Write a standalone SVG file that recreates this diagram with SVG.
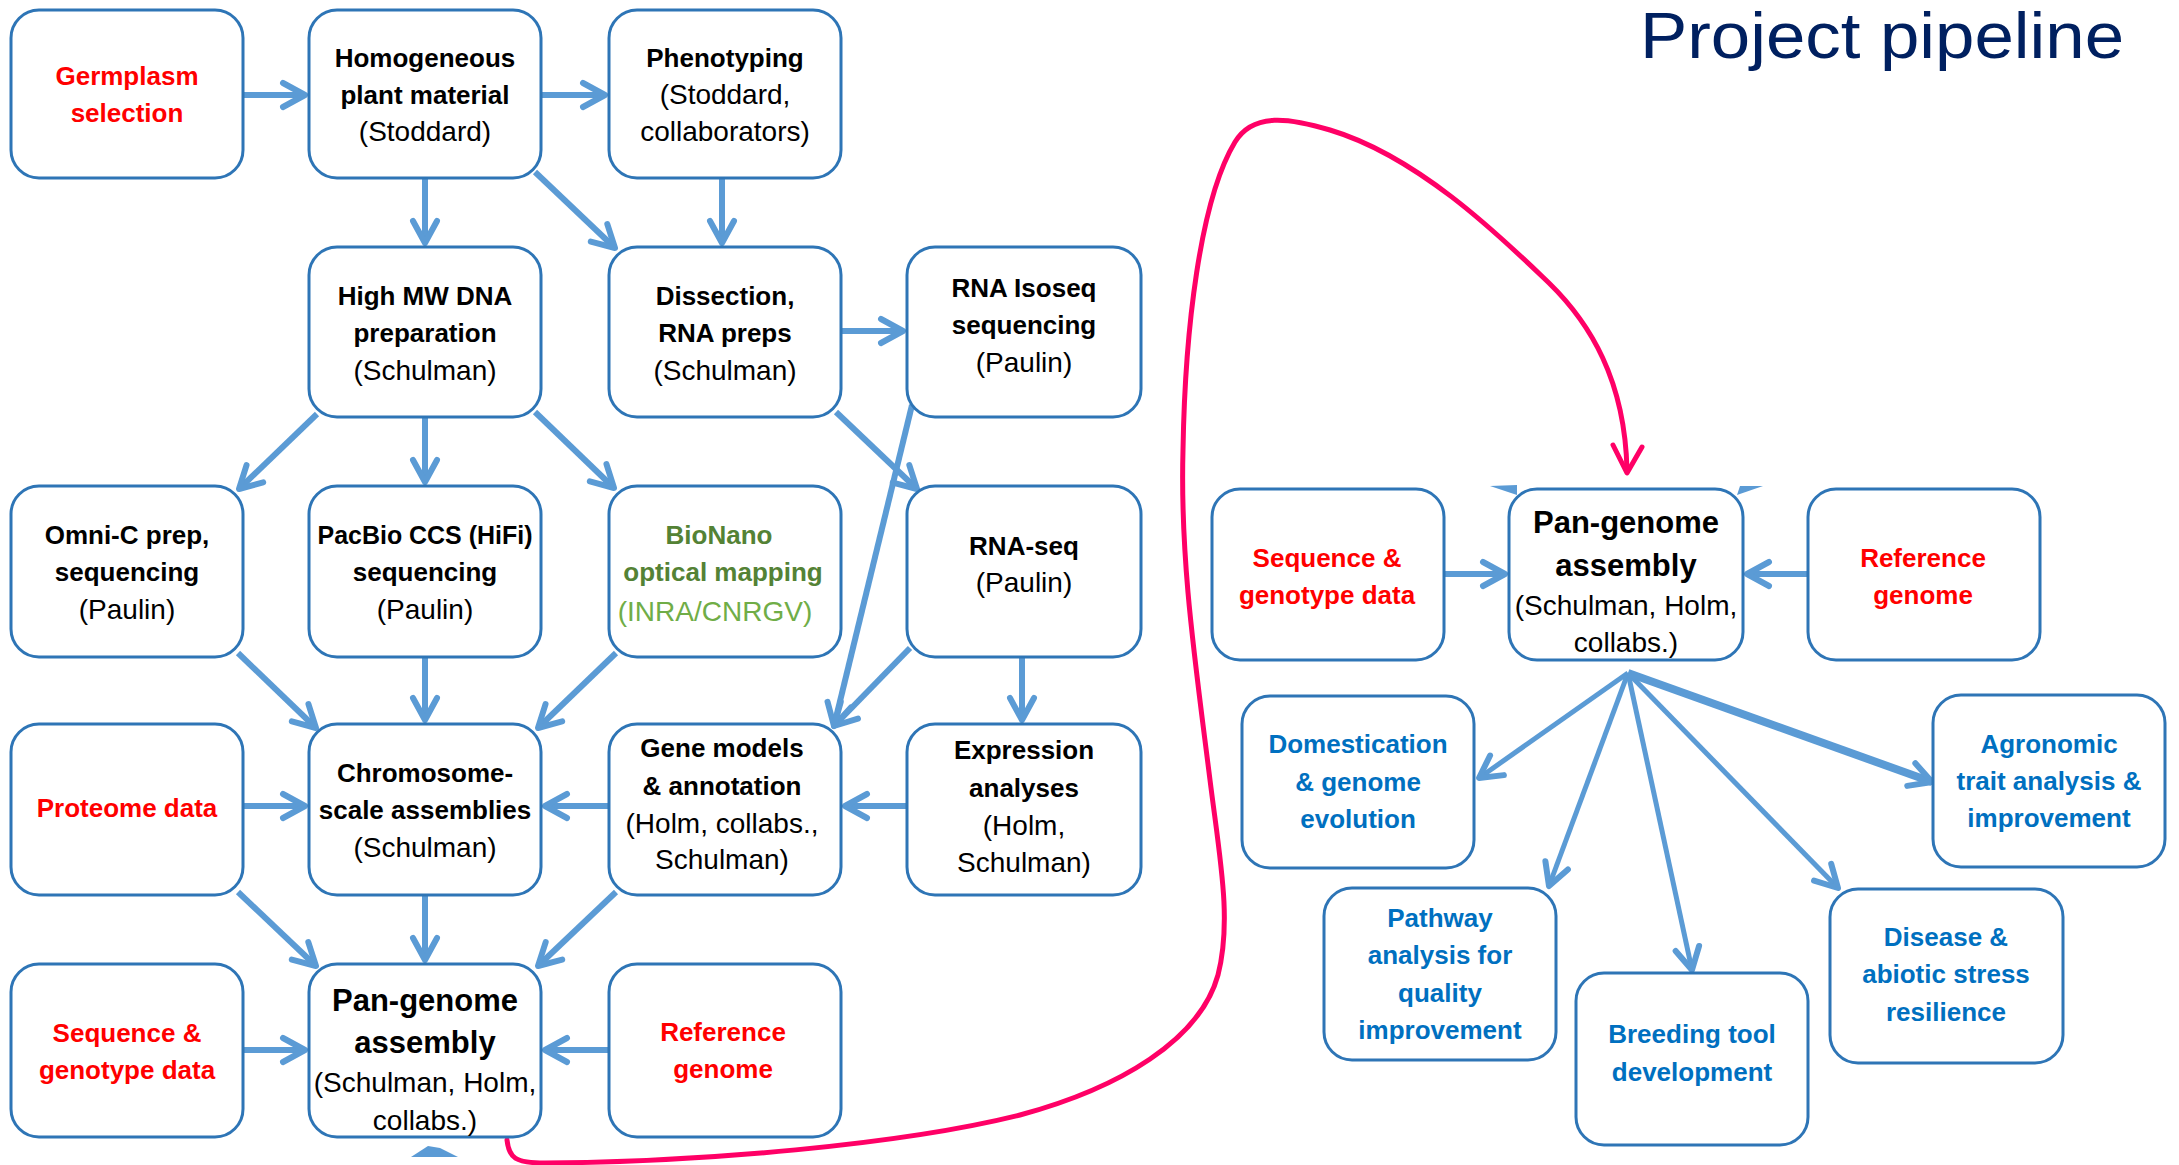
<svg xmlns="http://www.w3.org/2000/svg" width="2179" height="1165" viewBox="0 0 2179 1165">
<style>
.box{fill:#fff;stroke:#2E75B6;stroke-width:3}
text{font-family:"Liberation Sans",Arial,sans-serif;text-anchor:middle}
.b{font-size:26px;font-weight:bold;fill:#000}
.r{font-size:28px;fill:#000}
.red{font-size:26px;font-weight:bold;fill:#FF0000}
.out{font-size:26px;font-weight:bold;fill:#0070C0}
.pg{font-size:31px;font-weight:bold;fill:#000}
.gd{font-size:26px;font-weight:bold;fill:#548235}
.gl{font-size:28px;fill:#70AD47}
.title{font-size:64px;fill:#002060}
.arr{fill:none;stroke:#5B9BD5;stroke-width:6;marker-end:url(#ah)}
.thin{stroke-width:5}
.thick{stroke-width:8}
.pink{fill:none;stroke:#FF0066;stroke-width:5;stroke-linecap:round;stroke-linejoin:round}
</style>
<defs>
<marker id="ah" markerUnits="userSpaceOnUse" viewBox="-26 -16 32 32" markerWidth="32" markerHeight="32" refX="0" refY="0" orient="auto">
<path d="M-22,-12 L0,0 L-22,12" fill="none" stroke="#5B9BD5" stroke-width="6" stroke-linecap="round" stroke-linejoin="round"/>
</marker>
</defs>
<rect width="2179" height="1165" fill="#fff"/>
<text class="title" x="1882" y="58" textLength="484" lengthAdjust="spacingAndGlyphs">Project pipeline</text>

<g id="connectors">
<path class="arr" d="M243,95 L305,95"/>
<path class="arr" d="M541,95 L605,95"/>
<path class="arr" d="M425,178 L425,243"/>
<path class="arr" d="M535,172 L615,248"/>
<path class="arr" d="M722,178 L722,243"/>
<path class="arr" d="M841,331 L903,331"/>
<path class="arr" d="M317,414 L239,489"/>
<path class="arr" d="M425,417 L425,482"/>
<path class="arr" d="M535,412 L614,488"/>
<path class="arr" d="M912,405 L834,726"/>
<path class="arr" d="M836,412 L917,489"/>
<path class="arr" d="M910,648 L834,726"/>
<path class="arr" d="M1022,657 L1022,720"/>
<path class="arr" d="M907,806 L845,806"/>
<path class="arr" d="M609,806 L545,806"/>
<path class="arr" d="M243,806 L305,806"/>
<path class="arr" d="M238,653 L316,728"/>
<path class="arr" d="M425,657 L425,720"/>
<path class="arr" d="M616,653 L538,728"/>
<path class="arr" d="M238,892 L316,966"/>
<path class="arr" d="M425,895 L425,960"/>
<path class="arr" d="M616,892 L538,966"/>
<path class="arr" d="M243,1050 L305,1050"/>
<path class="arr" d="M609,1050 L545,1050"/>
<path class="arr" d="M1444,574 L1505,574"/>
<path class="arr" d="M1808,574 L1747,574"/>
<path class="arr thin" d="M1628,673 L1479,778"/>
<path class="arr thin" d="M1628,673 L1549,886"/>
<path class="arr thin" d="M1628,673 L1692,970"/>
<path class="arr thin" d="M1628,673 L1838,888"/>
<path class="arr thick" d="M1628,673 L1932,782"/>
<polygon points="411,1157 428,1146 440,1148 458,1157" fill="#5B9BD5"/>
<polygon points="1490,486 1517,485 1517,495" fill="#5B9BD5"/>
<polygon points="1737,495 1740,486 1763,486" fill="#5B9BD5"/>
<path class="pink" d="M507,1140 C509,1158 515,1163 545,1163 C700,1162 900,1145 1020,1115 C1120,1088 1200,1040 1218,975 C1232,920 1220,860 1210,780 C1195,660 1180,560 1183,450 C1185,330 1200,200 1235,142 C1253,112 1290,118 1330,130 C1420,157 1504,240 1549,283 C1590,323 1625,380 1627,470"/>
<path class="pink" d="M1613,445 L1627,473 L1642,447" stroke-width="4"/>
</g>

<g id="germplasm"><rect class="box" x="11" y="10" width="232" height="168" rx="28"/>
<text class="red" x="127" y="85">Germplasm</text><text class="red" x="127" y="122">selection</text></g>
<g id="homogeneous"><rect class="box" x="309" y="10" width="232" height="168" rx="28"/>
<text class="b" x="425" y="67">Homogeneous</text><text class="b" x="425" y="104">plant material</text><text class="r" x="425" y="141">(Stoddard)</text></g>
<g id="phenotyping"><rect class="box" x="609" y="10" width="232" height="168" rx="28"/>
<text class="b" x="725" y="67">Phenotyping</text><text class="r" x="725" y="104">(Stoddard,</text><text class="r" x="725" y="141">collaborators)</text></g>

<g id="highmw"><rect class="box" x="309" y="247" width="232" height="170" rx="28"/>
<text class="b" x="425" y="305">High MW DNA</text><text class="b" x="425" y="342">preparation</text><text class="r" x="425" y="380">(Schulman)</text></g>
<g id="dissection"><rect class="box" x="609" y="247" width="232" height="170" rx="28"/>
<text class="b" x="725" y="305">Dissection,</text><text class="b" x="725" y="342">RNA preps</text><text class="r" x="725" y="380">(Schulman)</text></g>
<g id="isoseq"><rect class="box" x="907" y="247" width="234" height="170" rx="28"/>
<text class="b" x="1024" y="297">RNA Isoseq</text><text class="b" x="1024" y="334">sequencing</text><text class="r" x="1024" y="372">(Paulin)</text></g>

<g id="omnic"><rect class="box" x="11" y="486" width="232" height="171" rx="28"/>
<text class="b" x="127" y="544">Omni-C prep,</text><text class="b" x="127" y="581">sequencing</text><text class="r" x="127" y="619">(Paulin)</text></g>
<g id="pacbio"><rect class="box" x="309" y="486" width="232" height="171" rx="28"/>
<text class="b" x="425" y="544" textLength="215" lengthAdjust="spacingAndGlyphs">PacBio CCS (HiFi)</text><text class="b" x="425" y="581">sequencing</text><text class="r" x="425" y="619">(Paulin)</text></g>
<g id="bionano"><rect class="box" x="609" y="486" width="232" height="171" rx="28"/>
<text class="gd" x="719" y="544">BioNano</text><text class="gd" x="723" y="581">optical mapping</text><text class="gl" x="715" y="621">(INRA/CNRGV)</text></g>
<g id="rnaseq"><rect class="box" x="907" y="486" width="234" height="171" rx="28"/>
<text class="b" x="1024" y="555">RNA-seq</text><text class="r" x="1024" y="592">(Paulin)</text></g>

<g id="proteome"><rect class="box" x="11" y="724" width="232" height="171" rx="28"/>
<text class="red" x="127" y="817">Proteome data</text></g>
<g id="chromosome"><rect class="box" x="309" y="724" width="232" height="171" rx="28"/>
<text class="b" x="425" y="782">Chromosome-</text><text class="b" x="425" y="819">scale assemblies</text><text class="r" x="425" y="857">(Schulman)</text></g>
<g id="genemodels"><rect class="box" x="609" y="724" width="232" height="171" rx="28"/>
<text class="b" x="722" y="757">Gene models</text><text class="b" x="722" y="795">&amp; annotation</text><text class="r" x="722" y="833">(Holm, collabs.,</text><text class="r" x="722" y="869">Schulman)</text></g>
<g id="expression"><rect class="box" x="907" y="724" width="234" height="171" rx="28"/>
<text class="b" x="1024" y="759">Expression</text><text class="b" x="1024" y="797">analyses</text><text class="r" x="1024" y="835">(Holm,</text><text class="r" x="1024" y="872">Schulman)</text></g>

<g id="sequenceL"><rect class="box" x="11" y="964" width="232" height="173" rx="28"/>
<text class="red" x="127" y="1042">Sequence &amp;</text><text class="red" x="127" y="1079">genotype data</text></g>
<g id="pangenomeL"><rect class="box" x="309" y="964" width="232" height="173" rx="28"/>
<text class="pg" x="425" y="1011">Pan-genome</text><text class="pg" x="425" y="1053">assembly</text><text class="r" x="425" y="1092">(Schulman, Holm,</text><text class="r" x="425" y="1130">collabs.)</text></g>
<g id="referenceL"><rect class="box" x="609" y="964" width="232" height="173" rx="28"/>
<text class="red" x="723" y="1041">Reference</text><text class="red" x="723" y="1078">genome</text></g>

<g id="sequenceR"><rect class="box" x="1212" y="489" width="232" height="171" rx="28"/>
<text class="red" x="1327" y="567">Sequence &amp;</text><text class="red" x="1327" y="604">genotype data</text></g>
<g id="pangenomeR"><rect class="box" x="1509" y="489" width="234" height="171" rx="28"/>
<text class="pg" x="1626" y="533">Pan-genome</text><text class="pg" x="1626" y="576">assembly</text><text class="r" x="1626" y="615">(Schulman, Holm,</text><text class="r" x="1626" y="652">collabs.)</text></g>
<g id="referenceR"><rect class="box" x="1808" y="489" width="232" height="171" rx="28"/>
<text class="red" x="1923" y="567">Reference</text><text class="red" x="1923" y="604">genome</text></g>

<g id="domestication"><rect class="box" x="1242" y="696" width="232" height="172" rx="28"/>
<text class="out" x="1358" y="753">Domestication</text><text class="out" x="1358" y="791">&amp; genome</text><text class="out" x="1358" y="828">evolution</text></g>
<g id="agronomic"><rect class="box" x="1933" y="695" width="232" height="172" rx="28"/>
<text class="out" x="2049" y="753">Agronomic</text><text class="out" x="2049" y="790">trait analysis &amp;</text><text class="out" x="2049" y="827">improvement</text></g>
<g id="pathway"><rect class="box" x="1324" y="888" width="232" height="172" rx="28"/>
<text class="out" x="1440" y="927">Pathway</text><text class="out" x="1440" y="964">analysis for</text><text class="out" x="1440" y="1002">quality</text><text class="out" x="1440" y="1039">improvement</text></g>
<g id="breeding"><rect class="box" x="1576" y="973" width="232" height="172" rx="28"/>
<text class="out" x="1692" y="1043">Breeding tool</text><text class="out" x="1692" y="1081">development</text></g>
<g id="disease"><rect class="box" x="1830" y="889" width="233" height="174" rx="28"/>
<text class="out" x="1946" y="946">Disease &amp;</text><text class="out" x="1946" y="983">abiotic stress</text><text class="out" x="1946" y="1021">resilience</text></g>
</svg>
